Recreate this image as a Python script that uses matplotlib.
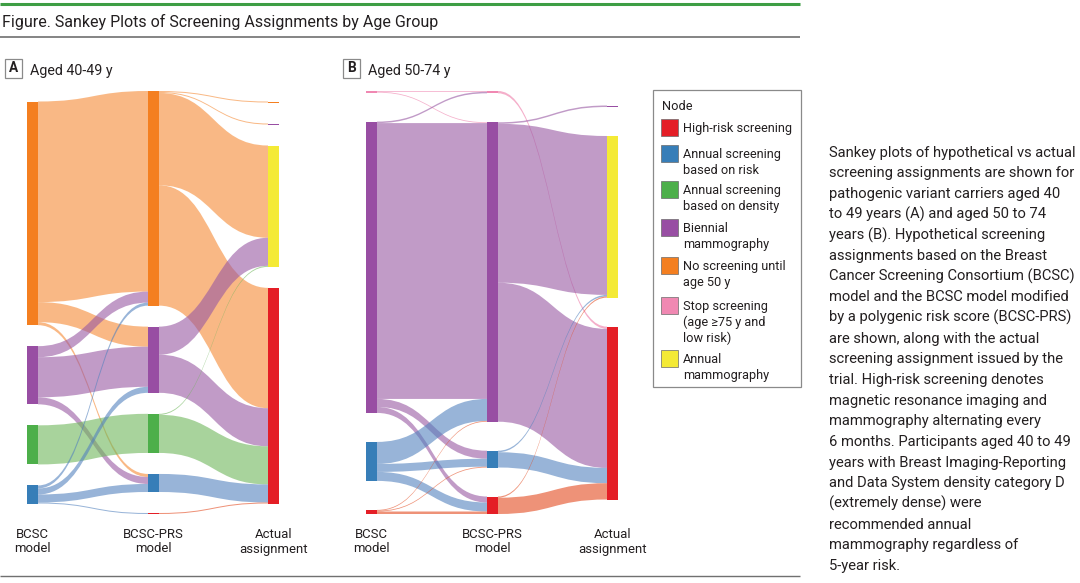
import matplotlib
matplotlib.use("Agg")
import matplotlib.pyplot as plt
from matplotlib.patches import Rectangle, PathPatch
from matplotlib.path import Path

# ---------------- data ----------------
node_keys = ["HR", "AR", "AD", "B", "NS", "S", "Y"]
node_names = ["High-risk screening",
              "Annual screening\nbased on risk",
              "Annual screening\nbased on density",
              "Biennial\nmammography",
              "No screening until\nage 50 y",
              "Stop screening\n(age \u226575 y and\nlow risk)",
              "Annual\nmammography"]
node_colors = ["#e41e26", "#377eb8", "#4daf4a", "#984ea3", "#f47f20", "#f088b2", "#f4ea35"]
link_colors = ["#e3491e", "#5382be", "#6eb65a", "#9858a3", "#f58a34", "#ee7aa8", "#f4ea35"]

stage_labels = ["BCSC\nmodel", "BCSC-PRS\nmodel", "Actual\nassignment"]

title = "Figure. Sankey Plots of Screening Assignments by Age Group"
panel_letters = ["A", "B"]
panel_titles = ["Aged 40-49 y", "Aged 50-74 y"]

# Panel A: aged 40-49 y
a_columns = [["NS", "B", "AD", "AR"],
             ["NS", "B", "AD", "AR", "HR"],
             ["NS", "B", "Y", "HR"]]
a_bcsc_prs_src = ["NS", "NS", "NS", "B", "B", "B", "AD", "AR", "AR", "AR", "AR"]
a_bcsc_prs_tgt = ["NS", "B", "AR", "NS", "B", "AR", "AD", "NS", "B", "AR", "HR"]
a_bcsc_prs_val = [200, 20, 3, 11, 40, 7, 39, 3, 6, 8, 1]
a_prs_act_src = ["NS", "NS", "NS", "NS", "B", "B", "AD", "AD", "AR", "HR"]
a_prs_act_tgt = ["NS", "B", "Y", "HR", "Y", "HR", "Y", "HR", "HR", "HR"]
a_prs_act_val = [1, 1, 92, 120, 28, 38, 1, 38, 18, 1]

# Panel B: aged 50-74 y
b_columns = [["S", "B", "AR", "HR"],
             ["S", "B", "AR", "HR"],
             ["B", "Y", "HR"]]
b_bcsc_prs_src = ["S", "S", "B", "B", "B", "B", "AR", "AR", "AR", "HR", "HR", "HR"]
b_bcsc_prs_tgt = ["S", "B", "S", "B", "AR", "HR", "B", "AR", "HR", "B", "AR", "HR"]
b_bcsc_prs_val = [0.8, 0.8, 1.5, 276, 8, 6, 22, 8, 9, 0.8, 0.8, 2.5]
b_prs_act_src = ["S", "B", "B", "B", "AR", "AR", "HR", "HR"]
b_prs_act_tgt = ["HR", "B", "Y", "HR", "Y", "HR", "Y", "HR"]
b_prs_act_val = [2.3, 1.5, 159, 139.1, 1.5, 15.3, 1.2, 16.3]

caption_lines = [
    "Sankey plots of hypothetical vs actual",
    "screening assignments are shown for",
    "pathogenic variant carriers aged 40",
    "to 49 years (A) and aged 50 to 74",
    "years (B). Hypothetical screening",
    "assignments based on the Breast",
    "Cancer Screening Consortium (BCSC)",
    "model and the BCSC model modified",
    "by a polygenic risk score (BCSC-PRS)",
    "are shown, along with the actual",
    "screening assignment issued by the",
    "trial. High-risk screening denotes",
    "magnetic resonance imaging and",
    "mammography alternating every",
    "6 months. Participants aged 40 to 49",
    "years with Breast Imaging-Reporting",
    "and Data System density category D",
    "(extremely dense) were",
    "recommended annual",
    "mammography regardless of",
    "5-year risk.",
]

# ---------------- figure ----------------
W, H = 1080, 583
FONT = ["Roboto", "DejaVu Sans"]
TXT = "#231f20"
color_of = dict(zip(node_keys, node_colors))
link_color_of = dict(zip(node_keys, link_colors))

fig = plt.figure(figsize=(W / 100, H / 100), dpi=100)
ax = fig.add_axes([0, 0, 1, 1])
ax.set_xlim(0, W)
ax.set_ylim(H, 0)
ax.axis("off")
renderer = fig.canvas.get_renderer()


def fit_size(s, target_w, weight="normal"):
    t = ax.text(0, 0, s, fontsize=10, family=FONT, weight=weight)
    w = t.get_window_extent(renderer).width
    t.remove()
    return 10 * target_w / w


def sankey(columns, stages, xs, node_w, gap, y_top, y_bot, alpha=0.6):
    ncol = len(columns)
    totals = []
    for c in range(ncol):
        tin = {k: 0.0 for k in columns[c]}
        tout = {k: 0.0 for k in columns[c]}
        if c > 0:
            _, t, v = stages[c - 1]
            for ti, vi in zip(t, v):
                tin[ti] += vi
        if c < ncol - 1:
            s, _, v = stages[c]
            for si, vi in zip(s, v):
                tout[si] += vi
        totals.append({k: max(tin[k], tout[k]) for k in columns[c]})
    span = y_bot - y_top
    k = min((span - (len(columns[c]) - 1) * gap) / sum(totals[c].values())
            for c in range(ncol))
    mid = (y_top + y_bot) / 2
    pos = []
    for c in range(ncol):
        h = sum(totals[c].values()) * k + (len(columns[c]) - 1) * gap
        y = mid - h / 2
        p = {}
        for key in columns[c]:
            p[key] = y
            y += totals[c][key] * k + gap
        pos.append(p)
    for c in range(ncol - 1):
        s, t, v = stages[c]
        links = list(zip(s, t, v))
        osrc, otgt = columns[c], columns[c + 1]
        sy, ty = {}, {}
        for key in osrc:
            y = pos[c][key]
            outs = sorted([i for i, l in enumerate(links) if l[0] == key],
                          key=lambda i: otgt.index(links[i][1]))
            for i in outs:
                sy[i] = y
                y += links[i][2] * k
        for key in otgt:
            y = pos[c + 1][key]
            ins = sorted([i for i, l in enumerate(links) if l[1] == key],
                         key=lambda i: osrc.index(links[i][0]))
            for i in ins:
                ty[i] = y
                y += links[i][2] * k
        x0 = xs[c] + node_w
        x1 = xs[c + 1]
        xm = (x0 + x1) / 2
        for i, (si, ti, vi) in enumerate(links):
            h = vi * k
            verts = [(x0, sy[i]), (xm, sy[i]), (xm, ty[i]), (x1, ty[i]),
                     (x1, ty[i] + h), (xm, ty[i] + h), (xm, sy[i] + h), (x0, sy[i] + h),
                     (x0, sy[i])]
            codes = [Path.MOVETO, Path.CURVE4, Path.CURVE4, Path.CURVE4,
                     Path.LINETO, Path.CURVE4, Path.CURVE4, Path.CURVE4, Path.CLOSEPOLY]
            ax.add_patch(PathPatch(Path(verts, codes), facecolor=link_color_of[si],
                                   edgecolor="none", alpha=alpha, zorder=1))
    for c in range(ncol):
        for key in columns[c]:
            ax.add_patch(Rectangle((xs[c], pos[c][key]), node_w,
                                   max(totals[c][key] * k, 0.8),
                                   facecolor=color_of[key], edgecolor="none", zorder=2))


# header rules
ax.plot([0, 800], [4, 4], color="#3e9e44", lw=2.2, solid_capstyle="butt")
ax.plot([0, 800], [37, 37], color="#707070", lw=1.2, solid_capstyle="butt")
ax.plot([0, 800], [575.5, 575.5], color="#707070", lw=1.0, solid_capstyle="butt")

ax.text(2, 26.5, title, fontsize=fit_size(title, 436), family=FONT, color=TXT,
        va="baseline", ha="left")

# panel headers
box_x = [5, 343]
lab_size = fit_size(panel_titles[0], 83)
for bx, letter, ptitle in zip(box_x, panel_letters, panel_titles):
    ax.add_patch(Rectangle((bx, 58.5), 17, 19.5, facecolor="white",
                           edgecolor="#8a8a8a", lw=0.9, zorder=3))
    ax.text(bx + 8.5, 68.5, letter, fontsize=lab_size * 0.95, weight="bold",
            family=FONT, color=TXT, ha="center", va="center", zorder=4)
    ax.text(bx + 25, 75.5, ptitle, fontsize=lab_size, family=FONT, color=TXT,
            ha="left", va="baseline")

# sankeys
node_w = 11
xs_a = [27, 148, 268]
xs_b = [366, 487, 607]
sankey(a_columns,
       [(a_bcsc_prs_src, a_bcsc_prs_tgt, a_bcsc_prs_val),
        (a_prs_act_src, a_prs_act_tgt, a_prs_act_val)],
       xs_a, node_w, 21, 91, 514)
sankey(b_columns,
       [(b_bcsc_prs_src, b_bcsc_prs_tgt, b_bcsc_prs_val),
        (b_prs_act_src, b_prs_act_tgt, b_prs_act_val)],
       xs_b, node_w, 29, 91, 514)

# stage labels
stage_size = fit_size("BCSC-PRS", 60)
for xs in (xs_a, xs_b):
    for x, lab in zip(xs, stage_labels):
        l1, l2 = lab.split("\n")
        ax.text(x + node_w / 2, 538.5, l1, fontsize=stage_size, family=FONT,
                color=TXT, ha="center", va="baseline")
        ax.text(x + node_w / 2, 552.5, l2, fontsize=stage_size, family=FONT,
                color=TXT, ha="center", va="baseline")

# legend
ax.add_patch(Rectangle((653, 90), 148, 297, facecolor="white",
                       edgecolor="#8a8a8a", lw=0.9, zorder=3))
leg_size = fit_size("High-risk screening", 109)
ax.text(662, 110, "Node", fontsize=leg_size, family=FONT, color=TXT,
        ha="left", va="baseline", zorder=4)
first_baselines = [132, 158, 194, 232, 270, 310, 363]
for key, name, col, yb in zip(node_keys, node_names, node_colors, first_baselines):
    ax.add_patch(Rectangle((661, yb - 13), 16.5, 16.5, facecolor=col,
                           edgecolor="#6a6a6a", lw=0.5, zorder=4))
    for j, line in enumerate(name.split("\n")):
        ax.text(683, yb + j * 15.8, line, fontsize=leg_size, family=FONT,
                color=TXT, ha="left", va="baseline", zorder=4)

# caption
cap_size = fit_size(caption_lines[0], 248)
for i, line in enumerate(caption_lines):
    ax.text(829, 156.7 + i * 20.67, line, fontsize=cap_size, family=FONT,
            color=TXT, ha="left", va="baseline")

fig.savefig("out.png", dpi=100, facecolor="white")
